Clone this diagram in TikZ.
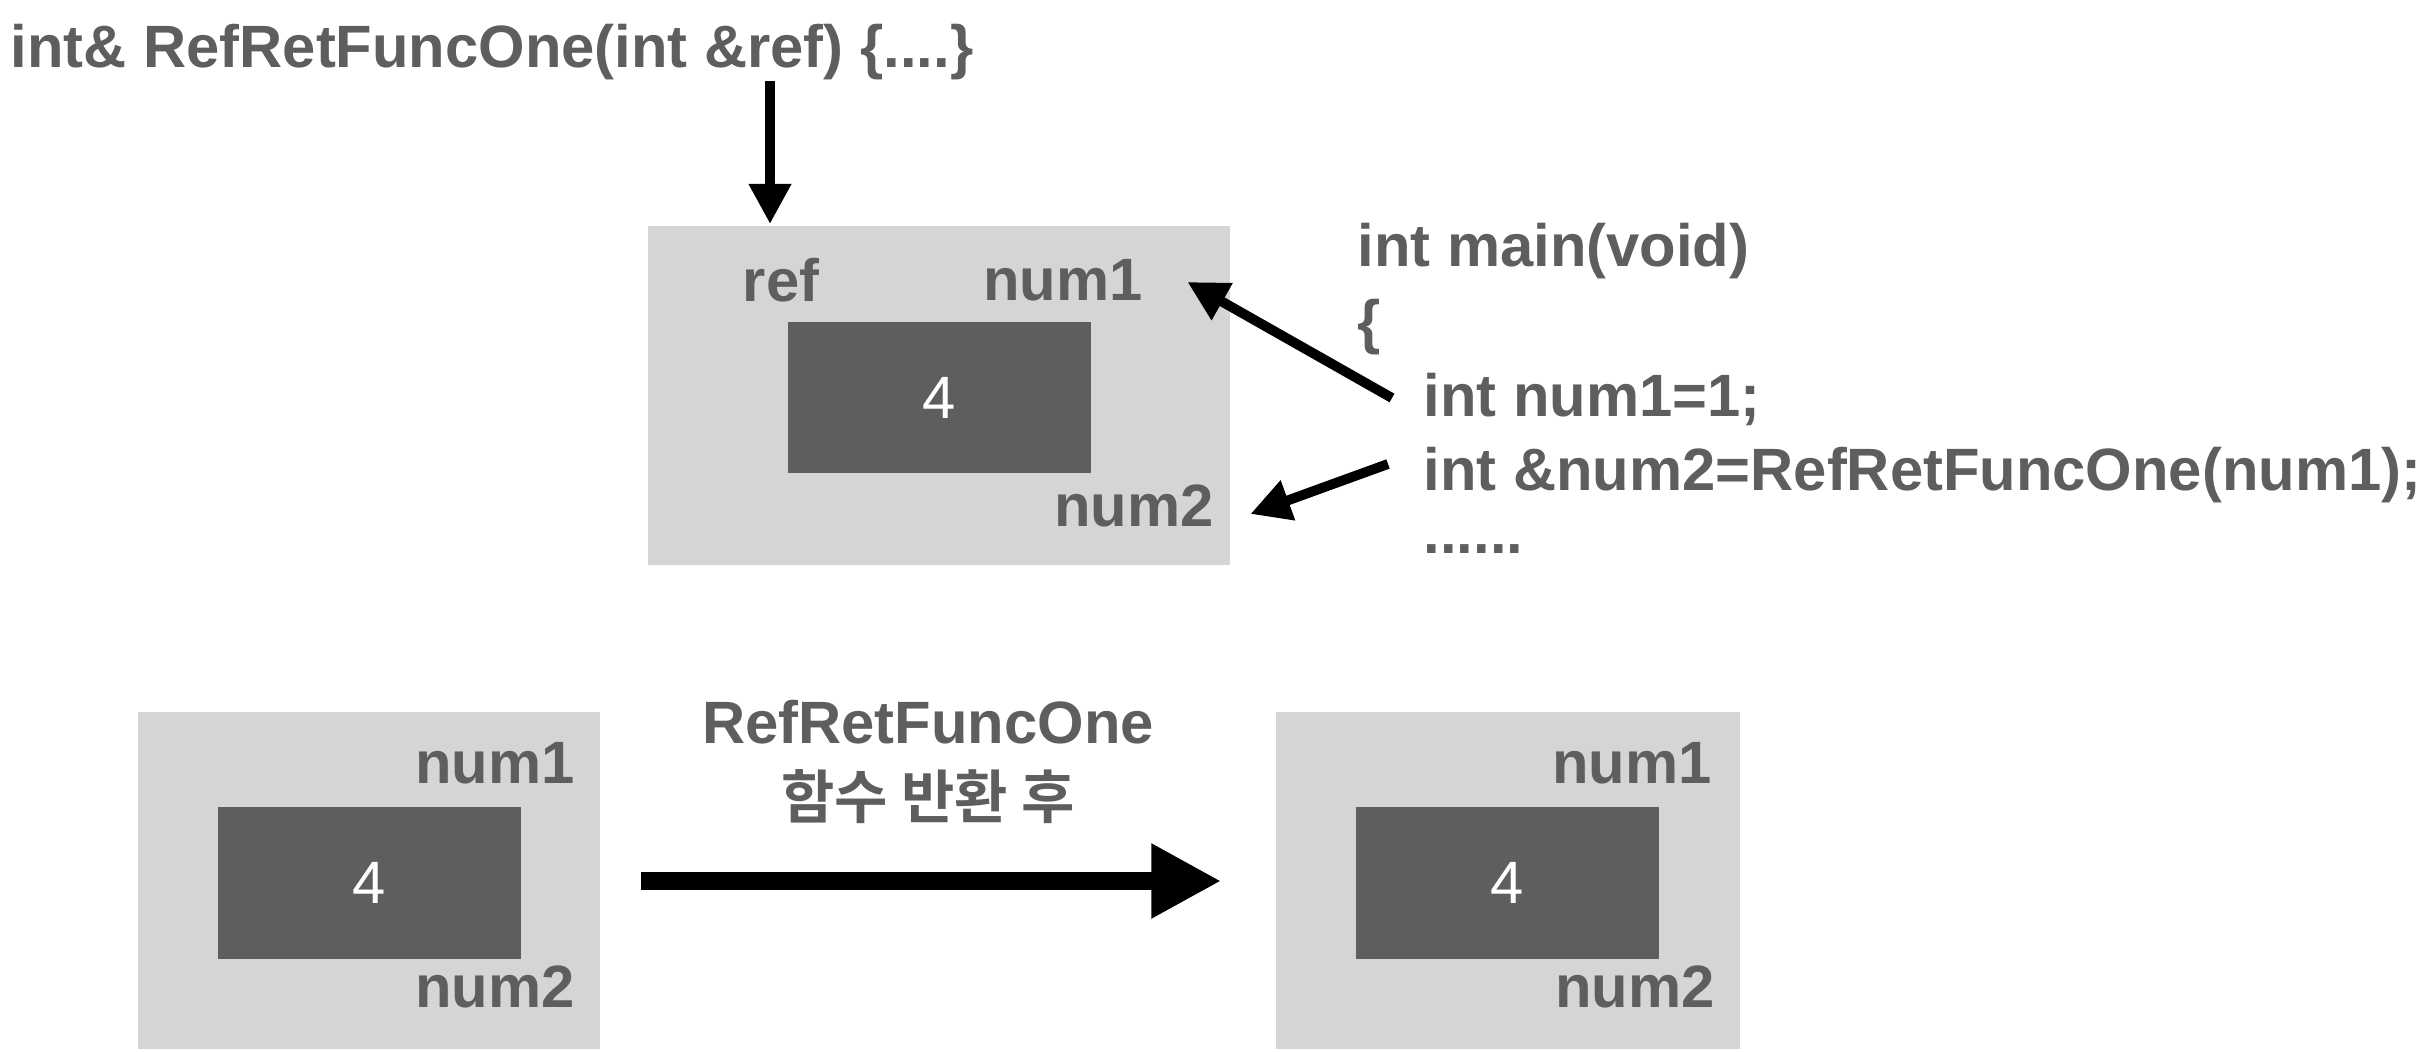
\documentclass[tikz,border=0pt]{standalone}
\usepackage{fontspec}
\setmainfont{Liberation Sans}[BoldFont={Liberation Sans Bold}]
\newfontfamily\krfont{Noto Sans CJK KR Bold}
\usepackage{tikz}
\usetikzlibrary{arrows.meta}

\definecolor{txtgray}{HTML}{5E5E5E}
\definecolor{boxlight}{HTML}{D5D5D5}
\definecolor{boxdark}{HTML}{5E5E5E}

\tikzset{
  lbl/.style={text=txtgray,font=\bfseries\fontsize{17}{20}\selectfont,inner sep=0pt},
  codeline/.style={lbl,anchor=west},
  outerbox/.style={fill=boxlight,draw=none,inner sep=0pt},
  innerbox/.style={fill=boxdark,draw=none,inner sep=0pt,minimum width=3.03cm,minimum height=1.51cm,
    text=white,font=\fontsize{17}{20}\selectfont},
  arr/.style={draw=black,line width=2.8pt,-{Triangle[length=0.40cm,width=0.40cm]}},
  bigarr/.style={draw=black,line width=5.1pt,-{Triangle[length=0.7cm,width=0.7cm]}}
}

\begin{document}
\begin{tikzpicture}[x=1cm,y=1cm]
	\useasboundingbox (0,0) rectangle (24.26,-10.52);

	% function signature
	\node[codeline] (sig) at (0.10,-0.52) {int\& RefRetFuncOne(int \&ref) \{....\}};
	\coordinate (reftip) at (7.70,-2.24);

	% box while the function runs
	\node[outerbox,minimum width=5.82cm,minimum height=3.39cm] (topbox) at (9.39,-3.955) {};
	\node[innerbox] (topval) at (9.395,-3.98) {4};
	\node[lbl] (tref) at (7.81,-2.80) {ref};
	\node[lbl] (tnum1) at (10.63,-2.80) {num1};
	\node[lbl] (tnum2) at (11.34,-5.06) {num2};

	% main
	\node[codeline] (mhead) at (13.57,-2.51) {int main(void)};
	\node[codeline] (mbrace) at (13.57,-3.27) {\{};
	\node[codeline] (mline1) at (14.23,-3.99) {int num1=1;};
	\node[codeline] (mline2) at (14.23,-4.75) {int \&num2=RefRetFuncOne(num1);};
	\node[codeline] (mdots) at (14.23,-5.49) {......};

	\draw[arr] (sig.south -| reftip) -- (reftip);
	\draw[arr] ([xshift=-0.31cm,yshift=0.01cm]mline1.west) -- ([xshift=0.44cm,yshift=-0.02cm]tnum1.east);
	\draw[arr] ([xshift=-0.35cm,yshift=0.11cm]mline2.west) -- ([xshift=0.36cm,yshift=-0.08cm]tnum2.east);

	% before / after return
	\node[outerbox,minimum width=4.62cm,minimum height=3.37cm] (lbox) at (3.69,-8.805) {};
	\node[innerbox] (lval) at (3.695,-8.83) {4};
	\node[lbl] (lnum1) at (4.95,-7.63) {num1};
	\node[lbl] (lnum2) at (4.95,-9.87) {num2};

	\node[outerbox,minimum width=4.64cm,minimum height=3.37cm] (rbox) at (15.08,-8.805) {};
	\node[innerbox] (rval) at (15.075,-8.83) {4};
	\node[lbl] (rnum1) at (16.32,-7.63) {num1};
	\node[lbl] (rnum2) at (16.35,-9.87) {num2};

	\node[lbl] (step1) at (9.28,-7.22) {RefRetFuncOne};
	\node[lbl,font=\krfont\fontsize{16.5}{20}\selectfont] (step2) at (9.28,-7.97) {함수 반환 후};

	\draw[bigarr] ([xshift=0.40cm,yshift=0.02cm]lbox.east |- lval) -- ([xshift=-0.54cm,yshift=0.02cm]rbox.west |- rval);
\end{tikzpicture}
\end{document}
